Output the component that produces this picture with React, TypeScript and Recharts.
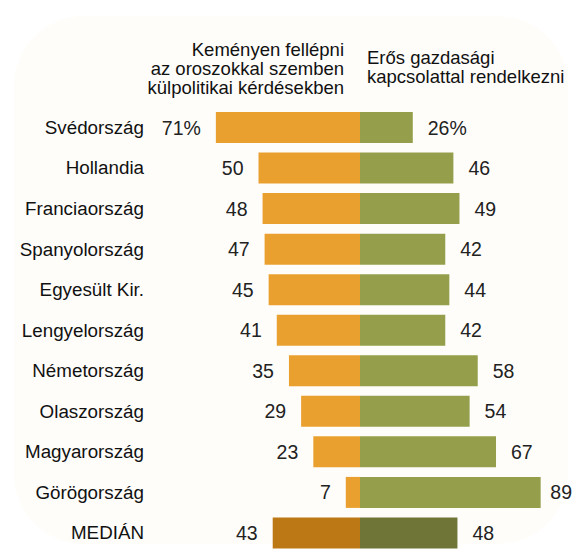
import { Bar, BarChart, Cell, LabelList, XAxis, YAxis } from "recharts";

const countries = [
  "Svédország",
  "Hollandia",
  "Franciaország",
  "Spanyolország",
  "Egyesült Kir.",
  "Lengyelország",
  "Németország",
  "Olaszország",
  "Magyarország",
  "Görögország",
  "MEDIÁN",
];
const kemenyen = [71, 50, 48, 47, 45, 41, 35, 29, 23, 7, 43];
const gazdasagi = [26, 46, 49, 42, 44, 42, 58, 54, 67, 89, 48];

const leftHeader = ["Keményen fellépni", "az oroszokkal szemben", "külpolitikai kérdésekben"];
const rightHeader = ["Erős gazdasági", "kapcsolattal rendelkezni"];

const W = 574;
const H = 556;
const FONT = "'Liberation Sans', Arial, sans-serif";

const ORANGE = "#EAA02F";
const GREEN = "#959F4B";
const ORANGE_DARK = "#BD7816";
const GREEN_DARK = "#6E7537";

const data = countries.map((name, i) => ({
  name,
  left: -kemenyen[i],
  right: gazdasagi[i],
}));

const fmt = (v: number, i: number) => `${Math.abs(v)}${i === 0 ? "%" : ""}`;

function LeftLabel(props: any) {
  const { x, y, width, height, value, index } = props;
  const edge = Math.min(x, x + width);
  return (
    <text
      x={edge - 15}
      y={y + height / 2}
      textAnchor="end"
      dominantBaseline="central"
      fontSize={19.5}
      fontFamily={FONT}
      fill="#222"
    >
      {fmt(value, index)}
    </text>
  );
}

function RightLabel(props: any) {
  const { x, y, width, height, value, index } = props;
  const edge = Math.max(x, x + width);
  const text = fmt(value, index);
  const est = text.length * 10.8;
  const tooFar = edge + 15 + est > W - 2;
  return (
    <text
      x={tooFar ? W - 2 : edge + 15}
      y={y + height / 2}
      textAnchor={tooFar ? "end" : "start"}
      dominantBaseline="central"
      fontSize={19.5}
      fontFamily={FONT}
      fill="#222"
    >
      {text}
    </text>
  );
}

export default function App() {
  const last = countries.length - 1;
  return (
    <div style={{ position: "absolute", left: 0, top: 0, width: W, height: H, background: "#fff", fontFamily: FONT }}>
      <div
        style={{
          position: "absolute",
          left: 14,
          top: 16,
          width: 554,
          height: 528,
          borderRadius: 70,
          background: "#FEFDFA",
        }}
      />
      <div
        style={{
          position: "absolute",
          right: W - 344,
          top: 40,
          textAlign: "right",
          fontSize: 18.5,
          lineHeight: "19px",
          color: "#111",
          whiteSpace: "nowrap",
        }}
      >
        {leftHeader.map((l) => (
          <div key={l}>{l}</div>
        ))}
      </div>
      <div
        style={{
          position: "absolute",
          left: 367,
          top: 48,
          textAlign: "left",
          fontSize: 18.5,
          lineHeight: "19px",
          color: "#111",
          whiteSpace: "nowrap",
        }}
      >
        {rightHeader.map((l) => (
          <div key={l}>{l}</div>
        ))}
      </div>
      <div style={{ position: "absolute", left: 0, top: 0 }}>
        <BarChart
          width={W}
          height={H}
          data={data}
          layout="vertical"
          stackOffset="sign"
          barSize={31}
          margin={{ top: 107, right: 11, bottom: 3, left: 0 }}
        >
          <XAxis type="number" domain={[-100, 100]} hide />
          <YAxis
            type="category"
            dataKey="name"
            width={157}
            axisLine={false}
            tickLine={false}
            tickSize={0}
            tickMargin={13}
            interval={0}
            tick={{ fontSize: 18.8, fill: "#111", fontFamily: FONT }}
          />
          <Bar dataKey="left" stackId="a" isAnimationActive={false}>
            {data.map((d, i) => (
              <Cell key={d.name} fill={i === last ? ORANGE_DARK : ORANGE} />
            ))}
            <LabelList dataKey="left" content={<LeftLabel />} />
          </Bar>
          <Bar dataKey="right" stackId="a" isAnimationActive={false}>
            {data.map((d, i) => (
              <Cell key={d.name} fill={i === last ? GREEN_DARK : GREEN} />
            ))}
            <LabelList dataKey="right" content={<RightLabel />} />
          </Bar>
        </BarChart>
      </div>
    </div>
  );
}
